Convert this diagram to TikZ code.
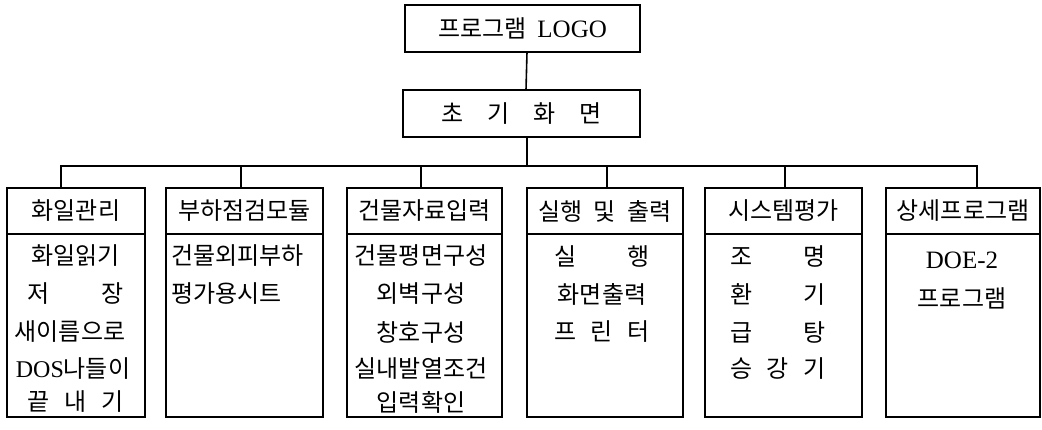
\documentclass[tikz,border=0pt]{standalone}
\usepackage{fontspec}
\setmainfont{Liberation Serif}
\newfontfamily\kr{Noto Sans CJK KR}
\newfontfamily\lat{Liberation Serif}
\begin{document}
\begin{tikzpicture}[x=1pt,y=-1pt,
  box/.style={draw, line width=1.1pt, outer sep=0pt, inner sep=0pt, font=\kr\fontsize{24}{28}\selectfont},
  txt/.style={inner sep=0pt, font=\kr\fontsize{24}{28}\selectfont},
  conn/.style={line width=1.6pt}]
\useasboundingbox (0,0) rectangle (1042,430);
\fill[white] (0,0) rectangle (1042,430);

% top boxes
\node[box, minimum width=235, minimum height=47] (logo) at (522.5,28.5) {프로그램\hspace{11pt}{\lat\fontsize{25}{28}\selectfont LOGO}};
\node[box, minimum width=237, minimum height=47] (init) at (521.5,113.5) {초\hspace{24pt}기\hspace{24pt}화\hspace{24pt}면};

% column headers
\node[box, minimum width=138, minimum height=46] (h1) at (76,211) {화일관리};
\node[box, minimum width=157, minimum height=46] (h2) at (244.5,211) {부하점검모듈};
\node[box, minimum width=155, minimum height=46] (h3) at (424.5,211) {건물자료입력};
\node[box, minimum width=156, minimum height=46] (h4) at (605,211) {실행\hspace{11pt}및\hspace{11pt}출력};
\node[box, minimum width=157, minimum height=46] (h5) at (783.5,211) {시스템평가};
\node[box, minimum width=154, minimum height=46] (h6) at (963,211) {상세프로그램};

% column bodies
\node[box, minimum width=138, minimum height=183, anchor=north] (b1) at (h1.south) {};
\node[box, minimum width=157, minimum height=183, anchor=north] (b2) at (h2.south) {};
\node[box, minimum width=155, minimum height=183, anchor=north] (b3) at (h3.south) {};
\node[box, minimum width=156, minimum height=183, anchor=north] (b4) at (h4.south) {};
\node[box, minimum width=157, minimum height=183, anchor=north] (b5) at (h5.south) {};
\node[box, minimum width=154, minimum height=183, anchor=north] (b6) at (h6.south) {};

% body texts
\node[txt] (r11) at (75.5,256) {화일읽기};
\node[txt] (r12) at (75.5,294) {\makebox[4em][s]{저\hfill 장}};
\node[txt] (r13) at (70,332) {새이름으로};
\node[txt] (r14) at (73,369) {{\lat DOS}나들이};
\node[txt] (r15) at (75.5,402) {\makebox[4em][s]{끝\hfill 내\hfill 기}};

\node[txt, anchor=west] (r21) at (171,256) {건물외피부하};
\node[txt, anchor=west] (r22) at (171,294) {평가용시트};

\node[txt] (r31) at (421,256) {건물평면구성};
\node[txt] (r32) at (421,294) {외벽구성};
\node[txt] (r33) at (421,332) {창호구성};
\node[txt] (r34) at (421,369) {실내발열조건};
\node[txt] (r35) at (421,402) {입력확인};

\node[txt] (r41) at (602,256) {\makebox[4em][s]{실\hfill 행}};
\node[txt] (r42) at (602,294) {화면출력};
\node[txt] (r43) at (602,332) {\makebox[4em][s]{프\hfill 린\hfill 터}};

\node[txt] (r51) at (778,256) {\makebox[4em][s]{조\hfill 명}};
\node[txt] (r52) at (778,294) {\makebox[4em][s]{환\hfill 기}};
\node[txt] (r53) at (778,332) {\makebox[4em][s]{급\hfill 탕}};
\node[txt] (r54) at (778,369) {\makebox[4em][s]{승\hfill 강\hfill 기}};

\node[txt] (r61) at (962,260) {\lat\fontsize{25}{28}\selectfont DOE-2};
\node[txt] (r62) at (962,298) {프로그램};

% connectors
\coordinate (bus) at (527,166);
\draw[conn] ([xshift=4.5pt]logo.south) -- ([xshift=4.5pt]init.north);
\draw[conn] ([xshift=5.5pt]init.south) -- (bus);
\draw[conn] ([xshift=-15pt]h1.north) |- (bus);
\draw[conn] ([xshift=-3.5pt]h2.north) |- (bus);
\draw[conn] ([xshift=-3.5pt]h3.north) |- (bus);
\draw[conn] ([xshift=2pt]h4.north) |- (bus);
\draw[conn] ([xshift=1.5pt]h5.north) |- (bus);
\draw[conn] ([xshift=14pt]h6.north) |- (bus);
\end{tikzpicture}
\end{document}
